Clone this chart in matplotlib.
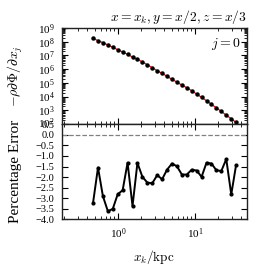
import numpy as np
import matplotlib
matplotlib.use('Agg')
import matplotlib.pyplot as plt
import matplotlib.transforms as mtransforms
from matplotlib.ticker import LogLocator, MultipleLocator, NullFormatter

plt.rcParams['font.family'] = ['Liberation Serif', 'DejaVu Serif']
plt.rcParams['mathtext.fontset'] = 'cm'
plt.rcParams['axes.unicode_minus'] = True

# data
x_kpc = [0.475, 0.551, 0.638, 0.740, 0.857, 0.993, 1.151, 1.334, 1.546, 1.791,
         2.078, 2.408, 2.790, 3.234, 3.748, 4.343, 5.033, 5.834, 6.761, 7.834,
         9.08, 10.52, 12.19, 14.13, 16.37, 18.99, 22.0, 25.5, 29.6, 34.2]
log_force = [8.25, 8.07, 7.93, 7.76, 7.59, 7.42, 7.25, 7.08, 6.88, 6.72,
             6.52, 6.32, 6.10, 5.89, 5.69, 5.48, 5.26, 5.06, 4.84, 4.65,
             4.43, 4.19, 3.95, 3.70, 3.44, 3.18, 2.92, 2.65, 2.39, 2.12]
pct_error = [-3.22, -1.55, -2.90, -3.61, -3.50, -2.81, -2.62, -1.32, -3.37, -1.33,
             -1.99, -2.26, -2.29, -1.91, -2.10, -1.65, -1.36, -1.49, -1.88, -1.88,
             -1.65, -1.69, -1.99, -1.32, -1.36, -1.68, -1.71, -1.15, -2.82, -1.43]

force = 10 ** np.array(log_force)

fig = plt.figure(figsize=(2.57, 2.74), dpi=100)
ax1 = fig.add_axes([0.240, 0.547, 0.720, 0.351])
ax2 = fig.add_axes([0.240, 0.199, 0.720, 0.348], sharex=ax1)

# top panel
ax1.plot(x_kpc, force, color='red', lw=0.9, zorder=2)
ax1.plot(x_kpc, force, 'o', color='black', ms=2.2, zorder=3)
ax1.set_xscale('log')
ax1.set_yscale('log')
ax1.set_xlim(0.186, 47)
ax1.set_ylim(1e2, 1e9)
ax1.yaxis.set_major_locator(LogLocator(base=10, numticks=20))
ax1.yaxis.set_minor_locator(LogLocator(base=10, subs=np.arange(2, 10), numticks=20))
ax1.yaxis.set_minor_formatter(NullFormatter())
ax1.tick_params(labelbottom=False)
ax1.set_ylabel(r'$-\rho\partial\Phi/\partial x_j$', fontsize=10)
ax1.text(0.97, 0.92, r'$j=0$', transform=ax1.transAxes, ha='right', va='top', fontsize=10)
ax1.set_title(r'$x=x_k,y=x/2,z=x/3$', loc='right', fontsize=9.8, pad=5)

# bottom panel
ax2.axhline(0.0, color='grey', ls='--', lw=0.9)
ax2.plot(x_kpc, pct_error, '-o', color='black', lw=1.4, ms=2.0)
ax2.set_ylim(-4.0, 0.5)
ax2.yaxis.set_major_locator(MultipleLocator(0.5))
ax2.set_ylabel('Percentage Error', fontsize=11)
ax2.set_xlabel(r'$x_k/\mathrm{kpc}$', fontsize=9.5, labelpad=5)

for ax in (ax1, ax2):
    ax.tick_params(which='both', direction='in', top=True, right=True, labelsize=8, pad=5)
    ax.tick_params(which='major', length=4.5, width=0.8)
    ax.tick_params(which='minor', length=2, width=0.6)
    for s in ax.spines.values():
        s.set_linewidth(1.0)
        s.set_color('#222222')
ax2.tick_params(axis='y', labelsize=7.5)
ax1.yaxis.set_label_coords(-0.198, 0.5)
ax2.yaxis.set_label_coords(-0.214, 0.5)

# nudge the lowest label of the top panel up so it clears the 0.0 label
fig.canvas.draw()
lift = mtransforms.ScaledTranslation(0, 1.5 / 72, fig.dpi_scale_trans)
for tick in ax1.yaxis.get_major_ticks():
    if np.isclose(tick.get_loc(), 1e2):
        tick.label1.set_transform(tick.label1.get_transform() + lift)

fig.savefig('out.png', dpi=100)
